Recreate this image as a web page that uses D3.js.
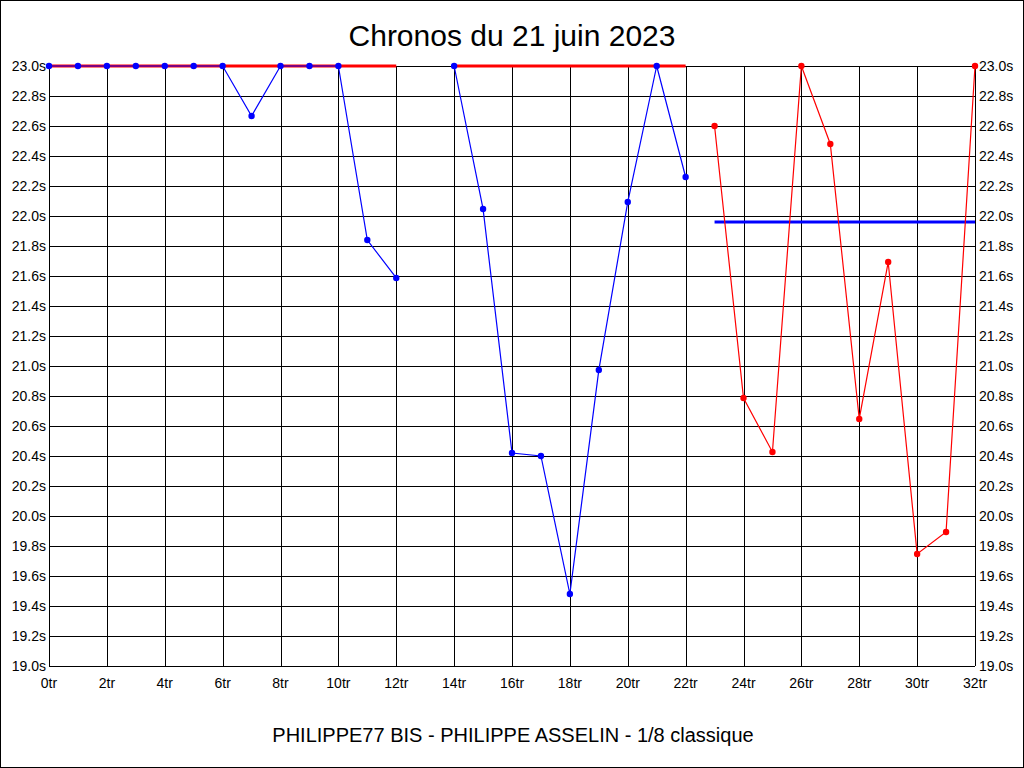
<!DOCTYPE html>
<html><head><meta charset="utf-8">
<script src="https://cdn.jsdelivr.net/npm/d3@7"></script>
<style>body{margin:0;background:#fff}svg{display:block}</style>
</head><body>
<svg id="c" width="1024" height="768"></svg>
<script>
const title = "Chronos du 21 juin 2023";
const subtitle = "PHILIPPE77 BIS - PHILIPPE ASSELIN - 1/8 classique";
// lap times (s) for laps 0..22 (blue), null = no value
const blueLaps = [0,1,2,3,4,5,6,7,8,9,10,11,12,13,14,15,16,17,18,19,20,21,22];
const blueTimes = [23.0,23.0,23.0,23.0,23.0,23.0,23.0,22.667,23.0,23.0,23.0,21.84,21.587,null,23.0,22.047,20.42,20.40,19.48,20.973,22.093,23.0,22.26];
const redLaps = [23,24,25,26,27,28,29,30,31,32];
const redTimes = [22.6,20.787,20.427,23.0,22.48,20.647,21.693,19.747,19.893,23.0];
// reference lines: [fromLap, toLap, value, colour]
const refLines = [[0,12,23.0,"red"],[14,22,23.0,"red"],[23,32,21.96,"blue"]];
const xTicks = d3.range(0,33,2);
const yTicks = d3.range(19.0,23.01,0.2);

const svg = d3.select("#c");
const W=1024,H=768;
const L=49,R=975,T=66,B=666;
const x = d3.scaleLinear().domain([0,32]).range([L,R]);
const y = d3.scaleLinear().domain([19,23]).range([B,T]);
const font = "'Liberation Sans', Arial, sans-serif";
const tickFont = "'Liberation Sans Narrow', 'Arial Narrow', "+font;

svg.append("rect").attr("x",0.5).attr("y",0.5).attr("width",W-1).attr("height",H-1).attr("fill","#fff").attr("stroke","#000");

// grid
const g = svg.append("g").attr("shape-rendering","crispEdges");
g.selectAll(".hg").data(yTicks).enter().append("line")
 .attr("x1",L).attr("x2",R).attr("y1",d=>Math.round(y(d))+0.5).attr("y2",d=>Math.round(y(d))+0.5)
 .attr("stroke","#000");
g.selectAll(".vg").data(xTicks).enter().append("line")
 .attr("y1",T).attr("y2",B).attr("x1",d=>Math.round(x(d))+0.5).attr("x2",d=>Math.round(x(d))+0.5)
 .attr("stroke","#000");

// axes labels
const fmtY = d=>d.toFixed(1)+"s";
svg.append("g").selectAll("text").data(yTicks).enter().append("text")
 .attr("x",L-3).attr("y",d=>y(d)).attr("dy","0.35em").attr("text-anchor","end")
 .attr("font-family",tickFont).attr("font-size",14).attr("fill","#000").text(fmtY);
svg.append("g").selectAll("text").data(yTicks).enter().append("text")
 .attr("x",R+4).attr("y",d=>y(d)).attr("dy","0.35em").attr("text-anchor","start")
 .attr("font-family",tickFont).attr("font-size",14).attr("fill","#000").text(fmtY);
svg.append("g").selectAll("text").data(xTicks).enter().append("text")
 .attr("x",d=>x(d)).attr("y",B+17).attr("dy","0.35em").attr("text-anchor","middle")
 .attr("font-family",tickFont).attr("font-size",14).attr("fill","#000").text(d=>d+"tr");

// reference lines
svg.append("g").selectAll("line").data(refLines).enter().append("line")
 .attr("x1",d=>x(d[0])).attr("x2",d=>x(d[1])).attr("y1",d=>y(d[2])).attr("y2",d=>y(d[2]))
 .attr("stroke",d=>d[3]).attr("stroke-width",3);

function series(laps, times, color){
  const pts = laps.map((l,i)=>({l,t:times[i]}));
  const line = d3.line().defined(d=>d.t!=null).x(d=>x(d.l)).y(d=>y(d.t));
  svg.append("path").datum(pts).attr("d",line).attr("fill","none").attr("stroke",color).attr("stroke-width",1.2);
  svg.append("g").selectAll("circle").data(pts.filter(d=>d.t!=null)).enter().append("circle")
   .attr("cx",d=>x(d.l)).attr("cy",d=>y(d.t)).attr("r",3.2).attr("fill",color);
}
series(blueLaps, blueTimes, "#0000ff");
series(redLaps, redTimes, "#ff0000");

svg.append("text").attr("x",512).attr("y",46).attr("text-anchor","middle")
 .attr("font-family",font).attr("font-size",30).attr("fill","#000").text(title);
svg.append("text").attr("x",513).attr("y",742).attr("text-anchor","middle")
 .attr("font-family",font).attr("font-size",20).attr("fill","#000").text(subtitle);
</script>
</body></html>
